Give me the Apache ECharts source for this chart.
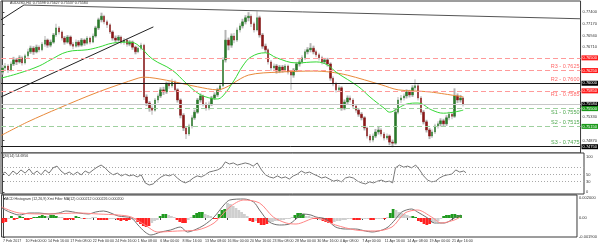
<!DOCTYPE html>
<html><head><meta charset="utf-8">
<script src="https://cdn.jsdelivr.net/npm/echarts@6.0.0/dist/echarts.min.js"></script>
<style>html,body{margin:0;padding:0;background:#fff}#c{width:600px;height:247px}</style>
</head><body><div id="c"></div>
<script>
// ---------- DATA ----------
const tickLabels = ['7 Feb 2017','10 Feb 00:00','14 Feb 16:00','17 Feb 08:00','22 Feb 00:00','24 Feb 16:00','1 Mar 08:00','6 Mar 00:00','8 Mar 16:00','13 Mar 08:00','16 Mar 00:00','20 Mar 16:00','23 Mar 08:00','28 Mar 00:00','30 Mar 16:00','4 Apr 08:00','7 Apr 00:00','11 Apr 16:00','14 Apr 08:00','19 Apr 00:00','21 Apr 16:00'];
const slotCount = 205;

const opens = [.7622,.7630,.7634,.7626,.7638,.7646,.7642,.7650,.7640,.7654,
.7662,.7669,.7662,.7671,.7666,.7677,.7685,.7675,.7681,.7695,
.7709,.7701,.7689,.7681,.7691,.7677,.7673,.7681,.7675,.7685,
.7679,.7689,.7681,.7693,.7709,.7725,.7732,.7721,.7715,.7701,
.7689,.7685,.7691,.7681,.7685,.7677,.7681,.7671,.7662,.7669,
.7675,.7573,.7561,.7551,.7547,.7567,.7575,.7587,.7583,.7599,
.7595,.7602,.7587,.7567,.7537,.7512,.7500,.7516,.7532,.7543,
.7567,.7575,.7559,.7551,.7559,.7571,.7577,.7587,.7595,.7646,
.7685,.7675,.7693,.7685,.7705,.7713,.7721,.7729,.7732,.7717,
.7705,.7729,.7695,.7673,.7666,.7642,.7630,.7634,.7624,.7632,
.7626,.7634,.7622,.7616,.7626,.7638,.7642,.7650,.7662,.7666,
.7669,.7662,.7656,.7650,.7642,.7646,.7638,.7610,.7599,.7587,
.7591,.7551,.7563,.7571,.7567,.7555,.7547,.7539,.7532,.7512,
.7496,.7488,.7496,.7504,.7508,.7500,.7492,.7496,.7484,.7482,
.7543,.7567,.7571,.7575,.7583,.7577,.7591,.7595,.7571,.7543,
.7524,.7508,.7496,.7504,.7516,.7520,.7526,.7520,.7532,.7539,
.7535,.7575,.7567,.7571];
const closes = [.7630,.7634,.7626,.7638,.7646,.7642,.7650,.7640,.7654,.7662,
.7669,.7662,.7671,.7666,.7677,.7685,.7675,.7681,.7695,.7709,
.7701,.7689,.7681,.7691,.7677,.7673,.7681,.7675,.7685,.7679,
.7689,.7681,.7693,.7709,.7725,.7732,.7721,.7715,.7701,.7689,
.7685,.7691,.7681,.7685,.7677,.7681,.7671,.7662,.7669,.7675,
.7573,.7561,.7551,.7547,.7567,.7575,.7587,.7583,.7599,.7595,
.7602,.7587,.7567,.7537,.7512,.7500,.7516,.7532,.7543,.7567,
.7575,.7559,.7551,.7559,.7571,.7577,.7587,.7595,.7646,.7685,
.7675,.7693,.7685,.7705,.7713,.7721,.7729,.7732,.7717,.7705,
.7729,.7695,.7673,.7666,.7642,.7630,.7634,.7624,.7632,.7626,
.7634,.7622,.7616,.7626,.7638,.7642,.7650,.7662,.7666,.7669,
.7662,.7656,.7650,.7642,.7646,.7638,.7610,.7599,.7587,.7591,
.7551,.7563,.7571,.7567,.7555,.7547,.7539,.7532,.7512,.7496,
.7488,.7496,.7504,.7508,.7500,.7492,.7496,.7484,.7482,.7543,
.7567,.7571,.7575,.7583,.7577,.7591,.7595,.7571,.7543,.7524,
.7508,.7496,.7504,.7516,.7520,.7526,.7520,.7532,.7539,.7535,
.7575,.7567,.7571,.7559];
const lows = [.7617,.7625,.7620,.7623,.7634,.7636,.7639,.7635,.7637,.7650,
.7658,.7656,.7659,.7661,.7663,.7672,.7670,.7671,.7678,.7691,
.7696,.7684,.7676,.7678,.7673,.7667,.7670,.7671,.7672,.7674,
.7676,.7677,.7679,.7690,.7705,.7720,.7716,.7709,.7697,.7684,
.7680,.7682,.7677,.7676,.7672,.7673,.7666,.7657,.7659,.7665,
.7567,.7555,.7544,.7538,.7544,.7561,.7571,.7577,.7579,.7589,
.7591,.7583,.7562,.7531,.7506,.7490,.7496,.7511,.7528,.7540,
.7562,.7554,.7546,.7547,.7555,.7567,.7573,.7583,.7592,.7641,
.7665,.7670,.7679,.7681,.7700,.7708,.7716,.7722,.7711,.7700,
.7702,.7690,.7668,.7660,.7637,.7624,.7625,.7619,.7620,.7621,
.7622,.7617,.7587,.7611,.7622,.7633,.7638,.7646,.7657,.7661,
.7657,.7651,.7645,.7637,.7638,.7633,.7605,.7594,.7582,.7583,
.7546,.7547,.7559,.7562,.7550,.7542,.7534,.7527,.7507,.7491,
.7483,.7484,.7492,.7499,.7495,.7487,.7488,.7478,.7474,.7479,
.7539,.7561,.7566,.7570,.7572,.7573,.7586,.7566,.7538,.7519,
.7503,.7490,.7492,.7500,.7511,.7515,.7515,.7516,.7527,.7529,
.7532,.7561,.7562,.7554];
const highs = [.7636,.7640,.7638,.7643,.7652,.7650,.7655,.7654,.7658,.7668,
.7674,.7673,.7676,.7675,.7681,.7693,.7688,.7686,.7699,.7717,
.7713,.7704,.7693,.7695,.7694,.7681,.7686,.7685,.7689,.7688,
.7693,.7692,.7698,.7713,.7729,.7739,.7735,.7725,.7718,.7704,
.7694,.7695,.7694,.7689,.7688,.7685,.7684,.7674,.7673,.7680,
.7678,.7578,.7565,.7556,.7571,.7580,.7592,.7593,.7603,.7604,
.7609,.7606,.7590,.7570,.7541,.7516,.7520,.7537,.7548,.7571,
.7580,.7578,.7563,.7564,.7575,.7582,.7591,.7600,.7651,.7705,
.7690,.7698,.7699,.7710,.7718,.7727,.7734,.7740,.7736,.7721,
.7742,.7733,.7699,.7678,.7669,.7646,.7639,.7638,.7636,.7636,
.7638,.7637,.7626,.7630,.7642,.7647,.7655,.7667,.7671,.7679,
.7674,.7666,.7660,.7654,.7650,.7650,.7641,.7614,.7603,.7596,
.7594,.7568,.7576,.7576,.7571,.7559,.7551,.7543,.7535,.7515,
.7500,.7501,.7510,.7514,.7512,.7504,.7501,.7499,.7489,.7549,
.7573,.7577,.7580,.7588,.7587,.7596,.7608,.7599,.7575,.7547,
.7528,.7512,.7509,.7520,.7525,.7531,.7530,.7537,.7544,.7543,
.7590,.7580,.7577,.7574];

// moving averages: [bar index, price]
const greenMA = [[-0.5,0.7610],[6,0.7620],[13,0.7634],[17,0.7646],[23,0.7662],[30,0.7666],[34,0.7671],[39,0.7679],[45,0.7681],[48,0.7675],[53,0.7648],[60,0.7626],[65,0.7600],[69,0.7581],[72,0.7573],[76,0.7569],[78,0.7575],[82,0.7606],[85,0.7634],[88,0.7652],[93,0.7660],[97,0.7650],[104,0.7640],[111,0.7642],[115,0.7636],[118,0.7622],[126,0.7593],[130,0.7573],[135,0.7551],[137,0.7543],[140,0.7551],[143,0.7559],[147,0.7561],[152,0.7547],[156,0.7541],[163,0.7547]];
const orangeMA = [[-0.5,0.7497],[9,0.7524],[20,0.7551],[34,0.7583],[48,0.7610],[50,0.7612],[58,0.7606],[69,0.7593],[76,0.7587],[87,0.7616],[98,0.7622],[110,0.7624],[116,0.7622],[122,0.7616],[134,0.7597],[140,0.7587],[151,0.7583],[163,0.7573]];

// drawn trend lines: [bar index, price]
const trendSteep = [[-0.5,0.7725],[7.6,0.7754]];
const trendTop = [[7.6,0.7754],[204.5,0.7727]];
const trendSupport = [[-0.5,0.7573],[53.4,0.7711]];

// pivot levels
const levelValues = [0.7650,0.7625,0.7600,0.7585,0.75584,0.7550,0.7515,0.7475];
const levelNames = ['','R3 - 0.7625','R2 - 0.7600','R1 - 0.7585','','S1 - 0.7550','S2 - 0.7515','S3 - 0.7475'];
const mainAxisTicks = [0.7740,0.7717,0.7694,0.7671,0.7533,0.7487];

// RSI(14)
const rsiIdx = [-0.5,0.9,2.3,3.7,5.1,6.5,8.0,9.4,10.8,12.2,13.6,15.0,16.4,17.8,19.2,20.6,22.0,23.5,24.9,26.3,27.7,29.1,30.5,31.9,33.3,34.7,36.1,37.5,38.9,40.4,41.8,43.2,44.6,46.0,47.4,48.8,50.2,51.6,53.0,54.4,55.8,57.3,58.7,60.1,61.5,62.9,64.3,65.7,67.1,68.5,69.9,71.3,72.7,74.2,75.6,77.0,78.4,79.8,81.2,82.6,84.0,85.4,86.8,88.2,89.6,91.1,92.5,93.9,95.3,96.7,98.1,99.5,100.9,102.3,103.7,105.1,106.5,108.0,109.4,110.8,112.2,113.6,115.0,116.4,117.8,119.2,120.6,122.0,123.4,124.9,126.3,127.7,129.1,130.5,131.9,133.3,134.7,136.1,137.2,138.2,139.6,141.1,142.5,143.9,145.3,146.7,148.1,149.5,150.9,152.3,153.7,155.1,156.5,158.0,159.4,160.8,162.2,163.0];
const rsiVals = [49,57,46,60,51,63,54,66,51,60,49,63,54,69,74,60,51,57,49,57,49,60,54,63,71,77,69,57,49,54,46,51,46,49,43,49,26,20,23,34,43,49,46,51,40,31,26,31,40,46,43,49,57,60,63,69,86,80,83,77,80,83,80,74,83,63,49,43,40,46,40,43,37,46,51,60,54,57,51,46,40,43,37,31,34,29,40,43,40,31,26,23,29,26,31,34,29,31,26,69,77,71,74,69,77,63,46,34,29,31,40,46,49,51,63,57,60,55];
const rsiLevels = [70,50,30];
const rsiAxisTicks = [0,30,50,100];

// MACD histogram (per bar) + filter colour code (g up, r down, s neutral)
const histVals = [-0.0005,-0.0004,-0.0001,0.0002,-0.0002,-0.0001,0.0002,0.0001,-0.0002,-0.0002,
-0.0001,0.0001,0.0001,0.0002,0.0003,0.0002,0.0002,0.0003,0.0003,0.0002,
0.0001,0.0001,-0.0002,-0.0002,-0.0001,-0.0002,0.0002,0.0001,-0.0001,-0.0001,
-0.0001,-0.0001,0.0001,0.0001,-0.0002,-0.0002,-0.0002,-0.0002,-0.0001,-0.0001,
-0.0001,-0.0002,-0.0003,-0.0002,-0.0003,-0.0002,-0.0001,-0.0002,-0.0004,-0.0006,
-0.0008,-0.0009,-0.0008,-0.0005,-0.0003,-0.0002,0.0002,0.0004,0.0004,0.0003,
0.0002,0.0001,-0.0002,-0.0004,-0.0005,-0.0005,-0.0002,0.0001,0.0003,0.0005,
0.0006,0.0006,0.0004,0.0003,0.0002,-0.0001,-0.0001,0.0004,0.0008,0.0009,
0.0015,0.0014,0.0012,0.0010,0.0008,0.0006,0.0004,0.0002,-0.0003,-0.0004,
-0.0003,-0.0005,-0.0007,-0.0007,-0.0006,-0.0004,-0.0004,-0.0003,-0.0003,-0.0002,
-0.0002,-0.0001,-0.0001,0.0001,0.0003,0.0005,0.0005,0.0004,0.0002,0.0002,
0.0001,-0.0001,-0.0001,-0.0002,-0.0003,-0.0004,-0.0005,-0.0005,-0.0004,-0.0003,
-0.0003,-0.0002,-0.0002,-0.0001,-0.0001,-0.0002,-0.0002,-0.0002,-0.0001,-0.0001,
-0.0001,-0.0002,-0.0002,-0.0001,-0.0001,-0.0001,-0.0001,0.0001,0.0005,0.0009,
0.0008,0.0006,0.0005,0.0004,0.0003,0.0002,0.0002,0.0001,-0.0003,-0.0004,
-0.0006,-0.0007,-0.0006,-0.0005,-0.0004,-0.0003,-0.0001,0.0002,0.0003,0.0003,
0.0004,0.0004,0.0003,0.0003];
const histCodes = 'rrsgrrggrr'+'rgggggsggg'+'ssrrrrggsr'+'ssssrrrrss'+'srrrrrssrr'+'rrrsssgggs'+'ssrrrrssgg'+'ggsssrrggg'+'ssssssssrr'+'srrrrsssss'+'ssssggggss'+'srrsrrrrss'+'sssssrrrss'+'srrsssrsgg'+'ssssssggrr'+'rrrssssggg'+'gggg';
const macdLine = [[-0.5,0.0010],[2.3,0.0006],[5.8,0.0003],[9.4,0.0005],[12.9,0.0005],[16.4,0.0004],[19.9,0.0005],[22.4,0.0007],[27.0,0.0005],[30.5,0.0004],[33.0,0.0006],[35.8,0.0007],[41.1,0.0002],[45.7,0.0],[48.1,-0.0007],[50.6,-0.0014],[52.7,-0.0017],[56.2,-0.0014],[59.7,-0.0012],[63.2,-0.0009],[65.7,-0.0014],[68.2,-0.0012],[71.7,-0.0007],[75.2,0.0001],[78.7,0.0013],[80.8,0.0018],[85.8,0.0019],[89.3,0.0016],[91.4,0.0008],[94.9,-0.0004],[98.5,-0.0007],[102.0,-0.0006],[104.4,-0.0001],[106.9,0.0004],[109.7,0.0003],[111.5,0.0001],[115.0,-0.0001],[118.5,-0.0009],[122.0,-0.0011],[125.6,-0.0011],[129.1,-0.0013],[131.5,-0.0014],[135.1,-0.0012],[137.2,-0.0009],[139.6,-0.0002],[142.1,0.0006],[145.6,0.0009],[147.7,0.0006],[151.3,0.0],[153.7,-0.0005],[157.3,-0.0005],[160.8,0.0],[163.0,0.0003]];
const signalLine = [[-0.5,0.0011],[5.8,0.0005],[16.4,0.0004],[27.0,0.0005],[34.0,0.0004],[41.1,0.0003],[45.7,0.0001],[50.6,-0.0007],[55.1,-0.0014],[62.2,-0.0013],[69.2,-0.0012],[75.2,-0.0005],[80.8,0.0011],[85.8,0.0018],[91.4,0.0015],[96.3,0.0001],[100.9,-0.0005],[104.4,-0.0006],[111.5,0.0],[118.5,-0.0007],[125.6,-0.0012],[132.6,-0.0013],[138.6,-0.0009],[143.2,0.0005],[147.7,0.0008],[152.7,0.0001],[156.2,-0.0005],[160.8,-0.0002],[163.0,0.0001]];
const macdAxisTicks = [-0.0019,0,0.0020];

// ---------- STYLE ----------
const FONT = 'Liberation Sans, DejaVu Sans, sans-serif';
const levelStyles = [
  {color:'#ff9a9a', type:[5,3], box:'#ff1a1a', text:'#ff6a6a', pos:'insideEndTop'},
  {color:'#ff9a9a', type:[5,3], box:'#ff1a1a', text:'#ff6a6a', pos:'insideEndTop'},
  {color:'#1a1a1a', type:'solid', box:'#000', text:'#ff6a6a', pos:'insideEndTop'},
  {color:'#ff9a9a', type:[5,3], box:'#ff1a1a', text:'#ff6a6a', pos:'insideEndBottom'},
  {color:'#c8c8c8', type:'solid', box:'#000', text:'#000', pos:'insideEndTop'},
  {color:'#9fd09f', type:[5,3], box:'#1a9a1a', text:'#4fa84f', pos:'insideEndBottom'},
  {color:'#9fd09f', type:[5,3], box:'#1a9a1a', text:'#4fa84f', pos:'insideEndTop'},
  {color:'#1a1a1a', type:'solid', box:'#000', text:'#4fa84f', pos:'insideEndTop'}
];
const histColor = {g:'#209a20', r:'#ff2222', s:'#cfcfcf'};

const levelLines = levelValues.map((v,i)=>{
  const st = levelStyles[i];
  return {yAxis:v, lineStyle:{color:st.color, type:st.type, width:1},
    label:{show:true, position:'end', formatter:()=>v.toFixed(5), color:'#fff', backgroundColor:st.box,
      fontSize:4, fontFamily:FONT, padding:[1,1,0,1], distance:1}};
});
const levelTexts = [];
levelValues.forEach((v,i)=>{
  if (!levelNames[i]) return;
  levelTexts.push({yAxis:v, lineStyle:{color:'rgba(0,0,0,0)', width:1},
    label:{show:true, position:levelStyles[i].pos, formatter:()=>levelNames[i], color:levelStyles[i].text,
      fontSize:5.5, fontFamily:FONT, distance:1}});
});

const slots = Array.from({length:slotCount}, (_,i)=>String(i));
const isTick = idx => idx % 8 === 0 && idx/8 < tickLabels.length;

const hiddenCat = g => ({type:'category', gridIndex:g, data:slots, boundaryGap:true, show:false});
const hiddenVal = g => ({type:'value', gridIndex:g, min:-0.5, max:slotCount-0.5, show:false});
const rightAxis = (g, min, max, ticks, fmt) => ({
  type:'value', gridIndex:g, position:'right', min, max,
  splitLine:{show:false},
  axisLine:{show:true, lineStyle:{color:'#444', width:1}},
  axisTick:{show:true, length:2, customValues:ticks, lineStyle:{color:'#444'}},
  axisLabel:{show:true, customValues:ticks, formatter:fmt, fontSize:4, color:'#333', fontFamily:FONT, margin:2}
});
const gridBox = (top, height) => ({left:1, right:16, top, height, show:true, borderColor:'#3a3a3a', borderWidth:1, backgroundColor:'#fff'});
const anchor = [[-0.5, levelValues[0]]];

const option = {
  animation:false,
  backgroundColor:'#fff',
  title:[
    {text:'AUDUSD,H4  0.75598 0.75627 0.75537 0.75584', left:8, top:0, padding:[1,2],
     textStyle:{fontSize:3.6, fontWeight:'normal', color:'#333', fontFamily:FONT}},
    {text:'RSI(14) 54.6956', left:2, top:154, padding:0,
     textStyle:{fontSize:3.6, fontWeight:'normal', color:'#333', fontFamily:FONT}},
    {text:'MACD Histogram (12,26,9) Xmt Filter MA(12) 0.000212 0.000226 0.000200', left:3, top:197, padding:0,
     textStyle:{fontSize:3.6, fontWeight:'normal', color:'#333', fontFamily:FONT}}
  ],
  grid:[gridBox(1,152), gridBox(153,41), gridBox(195,42)],
  xAxis:[
    hiddenCat(0), hiddenVal(0), hiddenVal(1),
    {type:'category', gridIndex:2, data:slots, boundaryGap:true,
     axisLine:{show:false},
     axisTick:{show:true, interval:isTick, length:2, alignWithLabel:true, lineStyle:{color:'#444'}},
     axisLabel:{show:true, interval:isTick, formatter:(v,idx)=>tickLabels[idx/8]||'', align:'left',
       fontSize:3.6, color:'#333', fontFamily:FONT, margin:2}},
    hiddenVal(2)
  ],
  yAxis:[
    rightAxis(0, 0.74626, 0.77620, mainAxisTicks, v=>v.toFixed(5)),
    rightAxis(1, -5.71, 111.43, rsiAxisTicks, v=>String(Math.round(v))),
    rightAxis(2, -0.0019, 0.0023, macdAxisTicks, v=>v===0?'0.00':v.toFixed(6))
  ],
  series:[
    {type:'line', xAxisIndex:1, yAxisIndex:0, data:anchor, symbol:'none', lineStyle:{opacity:0}, silent:true,
     markLine:{silent:true, precision:6, symbol:['none','none'], animation:false, data:levelLines}},
    {type:'candlestick', xAxisIndex:0, yAxisIndex:0, silent:true, barWidth:2,
     data:lows.map((l,i)=>[l, highs[i], l, highs[i]]),
     itemStyle:{color:'#b4b4b4', color0:'#b4b4b4', borderColor:'#b4b4b4', borderColor0:'#b4b4b4', borderWidth:0}},
    {type:'candlestick', xAxisIndex:0, yAxisIndex:0, silent:true, barWidth:2,
     data:opens.map((o,i)=>[o, closes[i], Math.min(o,closes[i]), Math.max(o,closes[i])]),
     itemStyle:{color:'#2a7a2a', color0:'#8b1818', borderColor:'#2a7a2a', borderColor0:'#8b1818', borderWidth:0.5}},
    {type:'line', xAxisIndex:1, yAxisIndex:0, data:orangeMA, smooth:0.3, symbol:'none',
     lineStyle:{color:'#e8893a', width:1}},
    {type:'line', xAxisIndex:1, yAxisIndex:0, data:greenMA, smooth:0.4, symbol:'none',
     lineStyle:{color:'#35d835', width:1}},
    {type:'line', xAxisIndex:1, yAxisIndex:0, data:trendSteep, symbol:'none', lineStyle:{color:'#222', width:1}},
    {type:'line', xAxisIndex:1, yAxisIndex:0, data:trendTop, symbol:'none', lineStyle:{color:'#555', width:1}},
    {type:'line', xAxisIndex:1, yAxisIndex:0, data:trendSupport, symbol:'none', lineStyle:{color:'#222', width:1}},
    {type:'line', xAxisIndex:1, yAxisIndex:0, data:anchor, symbol:'none', lineStyle:{opacity:0}, silent:true,
     markLine:{silent:true, precision:6, symbol:['none','none'], animation:false, data:levelTexts}},
    {type:'line', xAxisIndex:2, yAxisIndex:1, data:rsiIdx.map((x,i)=>[x, rsiVals[i]]), symbol:'none',
     lineStyle:{color:'#777', width:1},
     markLine:{silent:true, symbol:['none','none'], label:{show:false},
       lineStyle:{color:'#a8a8a8', type:[1,2], width:1}, data:rsiLevels.map(v=>({yAxis:v}))}},
    {type:'bar', xAxisIndex:3, yAxisIndex:2, barCategoryGap:'0%', silent:true,
     data:histVals.map((v,i)=>({value:v, itemStyle:{color:histColor[histCodes[i]]}}))},
    {type:'line', xAxisIndex:4, yAxisIndex:2, data:macdLine, smooth:0.3, symbol:'none', lineStyle:{color:'#707070', width:1}},
    {type:'line', xAxisIndex:4, yAxisIndex:2, data:signalLine, smooth:0.3, symbol:'none', lineStyle:{color:'#ff8585', width:1}}
  ]
};
const chart = echarts.init(document.getElementById('c'), null, {renderer:'canvas'});
chart.setOption(option);
</script></body></html>
